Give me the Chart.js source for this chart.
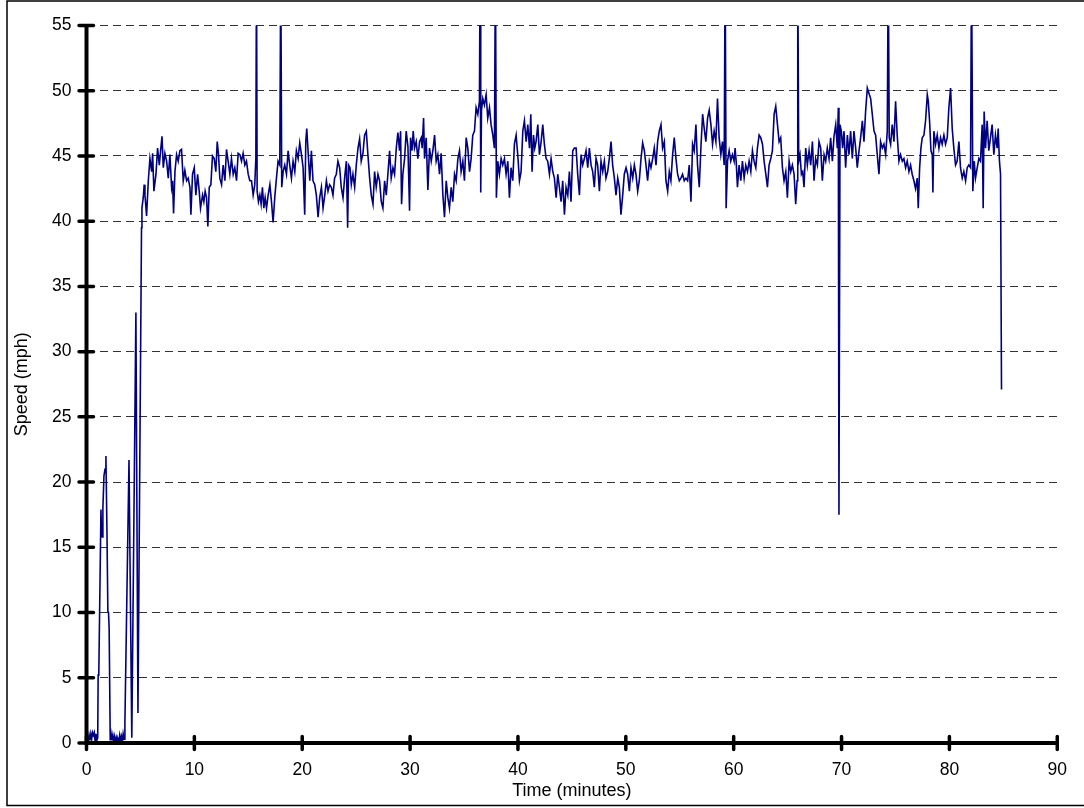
<!DOCTYPE html>
<html><head><meta charset="utf-8">
<script src="https://cdn.jsdelivr.net/npm/chart.js@4.4.1/dist/chart.umd.min.js"></script>
<style>html,body{margin:0;padding:0;background:#fff;}canvas{display:block;}</style>
</head><body>
<canvas id="c" width="1084" height="808"></canvas>
<script>
const minutes = [
0,0.08,0.16,0.24,0.32,0.4,0.48,0.56,0.64,0.72,0.8,0.88,0.96,1.04,1.08,1.14,1.34,1.4,1.46,1.52,1.62,1.72,1.8,1.9,1.98,2.04,2.1,2.2,2.28,2.36,2.44,2.52,2.6,2.68,2.76,2.84,2.92,3.0,3.08,3.16,3.24,3.32,3.4,3.48,3.56,3.94,4.2,4.58,4.77,5.1,
5.14,5.26,5.35,5.42,5.57,5.73,5.88,6.04,6.13,6.25,6.44,6.59,6.75,6.87,7.0,7.12,7.27,7.43,7.58,7.73,7.89,7.98,8.07,8.2,8.35,8.5,8.66,8.81,8.97,9.12,9.28,9.43,9.59,9.68,9.83,9.99,
10.14,10.3,10.45,10.57,10.76,10.88,11.0,11.13,11.25,11.38,11.53,11.68,11.84,11.99,12.12,12.24,12.36,12.52,12.67,12.83,12.98,13.13,13.29,13.44,13.6,13.75,13.91,14.06,14.22,14.37,14.52,14.68,14.83,14.99,
15.14,15.3,15.45,15.6,15.7,15.76,15.82,15.94,16.07,16.19,16.31,16.44,16.56,16.69,16.84,17.0,17.15,17.3,17.46,17.61,17.76,17.92,18.01,18.1,18.23,18.38,18.54,18.69,18.84,19.0,19.15,19.31,19.46,19.62,19.77,19.93,
20.08,20.23,20.33,20.42,20.54,20.7,20.85,21.0,21.16,21.31,21.47,21.62,21.78,21.93,22.09,22.24,22.39,22.54,22.7,22.85,23.0,23.16,23.31,23.47,23.62,23.78,23.93,24.09,24.21,24.3,24.43,24.55,24.7,24.86,
25.01,25.17,25.32,25.47,25.63,25.78,25.94,26.09,26.25,26.4,26.56,26.71,26.86,27.02,27.17,27.33,27.48,27.64,27.79,27.94,28.1,28.25,28.41,28.56,28.72,28.87,29.02,29.12,29.21,29.33,29.49,29.64,29.8,29.95,
30.04,30.17,30.29,30.41,30.57,30.72,30.88,31.03,31.12,31.25,31.34,31.49,31.65,31.8,31.96,32.11,32.27,32.42,32.57,32.73,32.88,33.04,33.19,33.35,33.5,33.65,33.81,33.96,34.12,34.27,34.43,34.58,34.73,34.89,
35.04,35.2,35.35,35.51,35.66,35.81,35.97,36.12,36.28,36.43,36.49,36.55,36.62,36.74,36.89,37.05,37.2,37.36,37.51,37.67,37.82,37.91,38.0,38.13,38.28,38.44,38.59,38.75,38.9,39.06,39.21,39.36,39.52,39.67,39.83,39.98,
40.14,40.29,40.45,40.6,40.76,40.91,41.07,41.19,41.31,41.44,41.56,41.68,41.84,41.99,42.15,42.3,42.45,42.61,42.76,42.92,43.07,43.23,43.38,43.54,43.69,43.84,44.0,44.15,44.31,44.46,44.62,44.77,44.92,
45.08,45.23,45.39,45.54,45.7,45.85,46.0,46.16,46.31,46.47,46.62,46.78,46.93,47.08,47.24,47.39,47.55,47.7,47.86,48.01,48.16,48.32,48.47,48.63,48.78,48.94,49.09,49.25,49.4,49.55,49.71,49.86,
50.02,50.17,50.33,50.48,50.64,50.79,50.94,51.1,51.25,51.41,51.56,51.72,51.87,52.02,52.18,52.33,52.49,52.64,52.8,52.95,53.1,53.26,53.41,53.57,53.72,53.88,54.03,54.18,54.34,54.49,54.65,54.8,54.96,
55.11,55.26,55.42,55.57,55.73,55.88,56.04,56.19,56.34,56.5,56.65,56.81,56.96,57.12,57.27,57.42,57.58,57.73,57.89,58.04,58.19,58.35,58.5,58.65,58.81,58.96,59.12,59.21,59.3,59.43,59.58,59.73,59.89,
60.04,60.13,60.23,60.35,60.5,60.66,60.81,60.97,61.12,61.28,61.43,61.59,61.74,61.89,62.05,62.2,62.36,62.51,62.67,62.82,62.98,63.13,63.28,63.44,63.59,63.75,63.9,64.06,64.21,64.36,64.52,64.67,64.83,64.98,
65.14,65.29,65.44,65.6,65.75,65.88,65.94,66.03,66.15,66.28,66.4,66.52,66.68,66.83,66.99,67.14,67.3,67.45,67.6,67.76,67.91,68.07,68.22,68.38,68.53,68.68,68.84,68.99,69.15,69.3,69.46,69.61,69.7,69.76,69.86,69.98,
70.1,70.23,70.38,70.54,70.69,70.84,71.0,71.15,71.31,71.46,71.62,71.77,71.93,72.08,72.23,72.39,72.54,72.7,72.85,73.01,73.16,73.31,73.47,73.62,73.78,73.93,74.09,74.24,74.33,74.42,74.55,74.7,74.86,
75.01,75.16,75.32,75.47,75.63,75.78,75.94,76.09,76.25,76.4,76.55,76.71,76.86,77.02,77.11,77.24,77.36,77.48,77.64,77.79,77.95,78.04,78.16,78.29,78.41,78.47,78.56,78.72,78.87,79.03,79.18,79.33,79.49,79.64,79.8,79.95,
80.11,80.26,80.41,80.57,80.72,80.88,81.03,81.19,81.34,81.5,81.65,81.8,81.96,82.05,82.17,82.3,82.42,82.58,82.73,82.88,83.04,83.13,83.22,83.35,83.5,83.65,83.81,83.96,84.12,84.27,84.43,84.52,84.64,84.74,84.83
];
const speedMph = [
0,0.4,0.1,0.6,0.2,0.7,0.3,0.8,0.6,0.8,0.1,0.7,0.2,0.4,5.2,5.3,17.9,15.9,15.8,18.0,20.5,21.0,22.0,16.0,10.1,10.0,8.8,0.2,0.7,0.2,0.6,0.1,0.5,0.1,0.4,0.0,0.3,0.1,0.6,0.2,0.5,0.0,0.7,0.3,1.5,21.7,0.4,33.0,2.3,39.5,
41.0,41.8,42.8,42.0,40.4,43.1,44.8,43.8,45.2,42.3,43.6,45.6,44.3,45.4,46.5,44.1,45.2,44.6,43.3,45.1,42.6,43.1,40.6,43.8,45.1,44.6,45.4,45.5,43.1,43.9,43.1,43.3,42.6,40.5,43.6,44.1,
42.0,43.6,42.3,41.0,42.0,41.5,42.3,41.8,39.6,42.6,42.8,45.0,44.8,43.8,46.1,45.1,43.3,42.8,44.3,43.1,45.5,44.6,43.6,44.8,43.6,44.1,43.1,45.2,45.1,44.6,45.2,44.3,44.6,43.6,
43.1,43.1,42.0,42.8,44.8,60,42.3,41.5,42.0,41.3,42.6,41.0,41.8,41.0,42.0,42.8,41.5,39.9,41.9,43.3,44.6,44.3,60,42.6,43.8,44.3,43.6,45.4,44.3,43.3,44.6,43.8,45.4,44.8,46.0,45.1,
44.1,40.5,46.1,47.1,45.4,43.1,45.4,43.1,42.8,42.0,40.3,41.8,42.6,41.0,42.0,43.1,42.3,42.8,42.6,42.0,43.3,43.6,44.6,44.1,42.6,41.8,43.3,44.6,39.5,44.3,44.1,42.8,43.6,42.6,
44.3,45.6,46.3,44.6,45.2,46.6,46.9,45.1,43.3,42.0,41.3,43.8,42.6,43.6,43.1,41.5,41.0,43.1,42.0,43.6,45.4,43.3,44.1,43.6,45.6,46.8,45.4,46.9,41.3,43.6,44.8,46.9,45.7,40.8,
46.4,45.4,46.9,45.6,46.1,44.8,46.1,46.4,45.6,47.9,44.8,46.4,42.4,45.6,44.6,45.4,46.6,44.6,45.1,43.6,45.2,42.0,40.3,43.1,41.8,41.0,42.6,41.5,43.6,43.1,44.8,45.4,43.8,44.6,
43.1,46.4,45.6,43.8,44.8,46.6,46.9,48.7,48.2,49.2,60,42.2,48.5,49.4,48.9,49.7,47.9,48.7,47.4,46.6,45.6,60,41.8,44.6,43.6,44.8,44.3,44.8,43.6,44.6,41.8,44.1,43.1,45.9,46.6,45.1,
43.1,43.8,46.9,47.7,46.1,47.4,45.6,48.2,43.8,46.6,45.6,46.1,47.4,45.1,46.1,47.4,45.9,44.8,44.6,43.6,44.8,43.8,43.3,41.8,43.6,42.6,41.5,43.1,40.5,42.6,42.0,43.8,41.5,
45.4,45.6,45.6,43.6,42.0,45.1,44.3,44.8,45.4,44.1,45.6,44.3,43.8,42.6,44.8,44.3,42.3,44.6,43.8,44.6,43.3,43.8,44.8,46.1,44.3,43.3,42.0,43.3,42.6,40.5,42.0,43.6,
44.1,43.6,42.3,44.1,43.3,44.3,43.6,42.3,43.1,44.8,46.0,45.4,44.3,43.1,44.6,44.1,44.8,45.6,44.3,46.1,46.9,47.4,45.6,46.1,43.1,42.3,43.8,43.1,45.1,46.4,44.8,43.6,43.1,
43.3,43.6,43.1,43.3,43.1,44.3,41.5,45.9,45.4,47.4,44.3,42.6,45.6,48.2,47.1,46.1,47.9,48.5,47.4,45.9,46.9,46.1,49.4,46.4,45.1,46.1,44.3,60,41.0,44.6,45.4,44.6,45.1,
44.6,45.6,44.6,42.6,44.3,43.1,44.6,43.3,44.3,43.8,44.6,43.8,45.4,44.6,44.1,45.6,46.6,46.4,45.9,44.6,43.6,42.6,44.3,44.8,45.4,48.2,48.8,47.4,46.1,46.4,44.1,43.1,43.8,41.8,
44.6,43.8,44.3,43.6,41.3,43.1,60,44.6,45.1,43.6,43.8,42.6,45.6,44.3,45.4,44.3,46.1,43.1,44.8,44.3,46.1,45.6,43.1,45.1,44.6,45.6,44.8,46.4,44.6,46.5,47.4,45.6,48.7,17.5,47.4,46.9,
45.6,46.9,44.1,46.6,45.1,46.9,44.8,46.9,45.6,44.1,45.4,46.4,47.7,46.1,48.4,50.2,49.8,49.4,48.2,46.9,46.6,45.1,43.6,46.1,45.6,45.9,45.1,46.9,60,46.4,45.9,47.4,46.1,
49.2,46.6,44.6,45.1,44.6,44.8,44.1,44.6,43.8,44.3,43.6,43.1,42.5,43.3,41.0,44.1,45.6,46.4,46.6,47.7,49.7,49.2,47.7,45.4,45.1,42.2,46.9,45.9,46.6,45.6,46.4,45.9,46.6,45.9,46.4,48.7,
50.2,47.1,45.6,44.3,44.6,46.1,44.1,43.3,43.8,43.1,44.1,44.3,44.1,60,42.3,44.6,43.3,44.1,44.8,44.6,47.4,41.0,48.4,45.6,47.7,45.4,46.4,47.4,45.1,46.6,45.6,47.1,44.6,43.6,27.1
];
const xTickValues = [0,10,20,30,40,50,60,70,80,90];
const yTickValues = [0,5,10,15,20,25,30,35,40,45,50,55];
const xAxisTitle = 'Time (minutes)';
const yAxisTitle = 'Speed (mph)';

const FONT = 'Liberation Sans, Arial, sans-serif';

const framePlugin = {
  id: 'frame',
  beforeDraw(chart) {
    const ctx = chart.ctx;
    ctx.save();
    ctx.fillStyle = '#fff';
    ctx.fillRect(0, 0, chart.width, chart.height);
    ctx.strokeStyle = '#000';
    ctx.lineWidth = 1.5;
    ctx.strokeRect(7, 1, 1080, 804.5);
    ctx.restore();
  },
  afterDraw(chart) {
    const ctx = chart.ctx;
    const xs = chart.scales.x, ys = chart.scales.y;
    const x0 = xs.getPixelForValue(0), x1 = xs.getPixelForValue(90);
    const y0 = ys.getPixelForValue(0), y1 = ys.getPixelForValue(55);
    ctx.save();
    ctx.strokeStyle = '#000';
    ctx.lineWidth = 4;
    ctx.lineCap = 'butt';
    ctx.beginPath();
    ctx.moveTo(x0, y1); ctx.lineTo(x0, y0 + 2);
    ctx.moveTo(x0 - 2, y0); ctx.lineTo(x1, y0);
    ctx.stroke();
    ctx.lineWidth = 3.5;
    ctx.lineCap = 'round';
    ctx.beginPath();
    yTickValues.forEach(v => {
      const y = ys.getPixelForValue(v);
      ctx.moveTo(x0 - 7.5, y); ctx.lineTo(x0 + 7, y);
    });
    xTickValues.forEach(v => {
      const x = xs.getPixelForValue(v);
      ctx.moveTo(x, y0 - 6.5); ctx.lineTo(x, y0 + 6.5);
    });
    ctx.stroke();
    ctx.restore();
  }
};

new Chart(document.getElementById('c'), {
  type: 'line',
  data: {
    datasets: [{
      data: minutes.map((t, i) => ({x: t, y: speedMph[i]})),
      borderColor: '#000080',
      borderWidth: 1.6,
      pointRadius: 0,
      tension: 0,
      fill: false,
      clip: 0
    }]
  },
  options: {
    responsive: false,
    devicePixelRatio: 1,
    animation: false,
    events: [],
    layout: { padding: { left: 0, top: 24, right: 25.5, bottom: 0 } },
    plugins: { legend: { display: false }, tooltip: { enabled: false } },
    scales: {
      x: {
        type: 'linear', min: 0, max: 90,
        afterBuildTicks: s => { s.ticks = xTickValues.map(v => ({value: v})); },
        afterFit: s => { s.height = 65; },
        grid: { display: false, drawTicks: false },
        border: { display: false },
        ticks: { color: '#000', font: { family: FONT, size: 17.5 }, padding: 17, maxRotation: 0, autoSkip: false },
        title: { display: true, text: xAxisTitle, color: '#000', font: { family: FONT, size: 18 }, padding: { top: 0, bottom: 6 } }
      },
      y: {
        type: 'linear', min: 0, max: 55,
        afterBuildTicks: s => { s.ticks = yTickValues.map(v => ({value: v})); },
        afterFit: s => { s.width = 86.5; },
        grid: { color: '#333', lineWidth: 1, drawTicks: false },
        border: { display: false, dash: [8, 5] },
        ticks: { color: '#000', font: { family: FONT, size: 17.5 }, padding: 15, autoSkip: false },
        title: { display: true, text: yAxisTitle, color: '#000', font: { family: FONT, size: 18 }, padding: { top: 11, bottom: 0 } }
      }
    }
  },
  plugins: [framePlugin]
});
</script>
</body></html>
